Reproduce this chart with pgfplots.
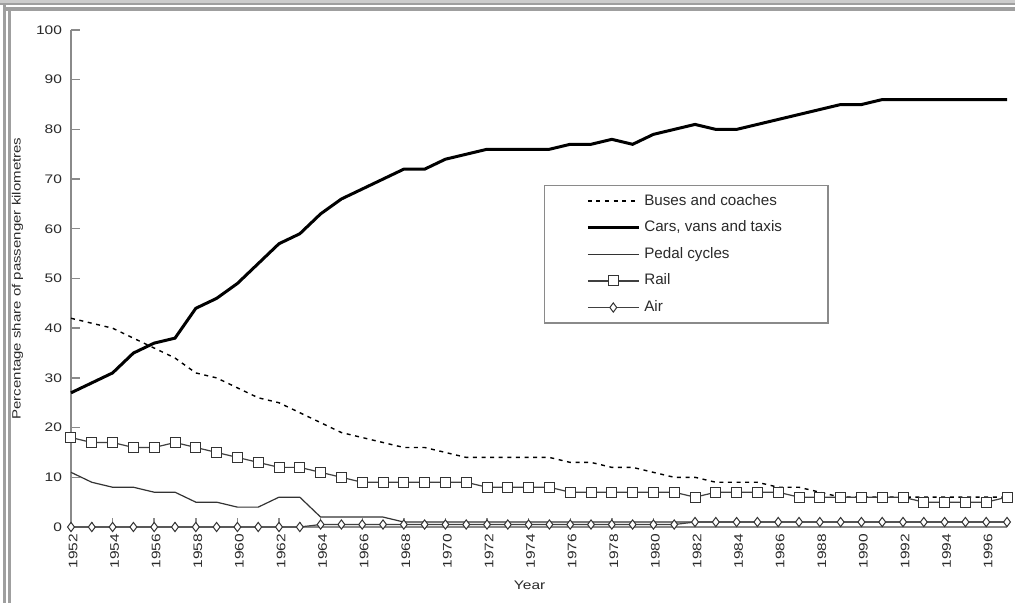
\documentclass[border=0pt]{standalone}
\usepackage{fontspec}
\setmainfont{Liberation Sans}
\newfontfamily\tickfont[FakeStretch=1.25]{Liberation Sans}
\usepackage{pgfplots}
\pgfplotsset{compat=1.18}
\definecolor{txt}{HTML}{2A2A2A}
\definecolor{axgray}{HTML}{8A8A8A}
\pgfplotstableread{
year bus car cyc rail air
1952 42 27 11 18 0
1953 41 29 9 17 0
1954 40 31 8 17 0
1955 38 35 8 16 0
1956 36 37 7 16 0
1957 34 38 7 17 0
1958 31 44 5 16 0
1959 30 46 5 15 0
1960 28 49 4 14 0
1961 26 53 4 13 0
1962 25 57 6 12 0
1963 23 59 6 12 0
1964 21 63 2 11 0.5
1965 19 66 2 10 0.5
1966 18 68 2 9 0.5
1967 17 70 2 9 0.5
1968 16 72 1 9 0.5
1969 16 72 1 9 0.5
1970 15 74 1 9 0.5
1971 14 75 1 9 0.5
1972 14 76 1 8 0.5
1973 14 76 1 8 0.5
1974 14 76 1 8 0.5
1975 14 76 1 8 0.5
1976 13 77 1 7 0.5
1977 13 77 1 7 0.5
1978 12 78 1 7 0.5
1979 12 77 1 7 0.5
1980 11 79 1 7 0.5
1981 10 80 1 7 0.5
1982 10 81 1 6 1
1983 9 80 1 7 1
1984 9 80 1 7 1
1985 9 81 1 7 1
1986 8 82 1 7 1
1987 8 83 1 6 1
1988 7 84 1 6 1
1989 6 85 1 6 1
1990 6 85 1 6 1
1991 6 86 1 6 1
1992 6 86 1 6 1
1993 6 86 1 5 1
1994 6 86 1 5 1
1995 6 86 1 5 1
1996 6 86 1 5 1
1997 6 86 1 6 1
}\datatable
\begin{document}
\begin{tikzpicture}
\useasboundingbox (0,0) rectangle (507.5pt,-301.5pt);
\fill[white] (0,0) rectangle (507.5pt,-301.5pt);
% frame
\fill[gray!40] (0,0) rectangle (507.5pt,-1.5pt);
\fill[gray!75] (0,-1.5pt) rectangle (507.5pt,-2.5pt);
\fill[gray!75] (1.5pt,-3.5pt) rectangle (507.5pt,-5.4pt);
\fill[gray!75] (1.5pt,-1.5pt) rectangle (2.8pt,-301.5pt);
\fill[gray!75] (4.2pt,-3.5pt) rectangle (5.4pt,-301.5pt);
\begin{axis}[
  at={(35.5pt,-263.5pt)}, anchor=south west,
  scale only axis, width=468pt, height=248.5pt,
  xmin=1952, xmax=1997, ymin=0, ymax=100,
  clip=false,
  axis x line*=bottom, axis y line*=left,
  axis line style={axgray, line width=0.7pt},
  every tick/.style={axgray, line width=0.7pt},
  xtick={1952,1954,...,1996}, minor xtick={1953,1955,...,1997},
  ytick={0,10,...,100},
  tick align=inside,
  major tick length=4.5pt, minor tick length=2.5pt,
  /pgf/number format/1000 sep={},
  /pgf/number format/assume math mode=true,
  tick label style={font=\tickfont\fontsize{6.2}{7}\selectfont, text=txt},
  xticklabel style={rotate=90, anchor=east, xshift=0pt, yshift=-1pt},
  yticklabel style={xshift=-1pt},
  ylabel={Percentage share of passenger kilometres},
  ylabel style={at={(axis description cs:-0.057,0.5)}, anchor=center, font=\tickfont\fontsize{6}{7}\selectfont, text=txt},
  xlabel={Year},
  xlabel style={at={(axis description cs:0.49,-0.118)}, anchor=center, font=\tickfont\fontsize{6.2}{7}\selectfont, text=txt},
  legend style={at={(0.505,0.688)}, anchor=north west, draw=axgray, line width=0.6pt,
     font=\fontsize{7.6}{9}\selectfont, text=txt, inner xsep=21pt, inner ysep=2.2pt, row sep=2.3pt},
  legend cell align=left,
  legend image code/.code={\draw[mark repeat=2,mark phase=2,#1] plot coordinates {(0pt,0pt) (12.75pt,0pt) (25.5pt,0pt)};},
]
\addplot[black, line width=0.7pt, dash pattern=on 2pt off 2.3pt] table[x=year,y=bus] {\datatable};
\addlegendentry{Buses and coaches}
\addplot[black, line width=1.5pt] table[x=year,y=car] {\datatable};
\addlegendentry{Cars, vans and taxis}
\addplot[black!80, line width=0.6pt] table[x=year,y=cyc] {\datatable};
\addlegendentry{Pedal cycles}
\addplot[black!75, line width=0.6pt, mark=square*, mark size=2.5pt, mark options={solid, fill=white, draw=black!80, line width=0.5pt}] table[x=year,y=rail] {\datatable};
\addlegendentry{Rail}
\addplot[black!75, line width=0.6pt, mark=diamond*, mark size=2.3pt, mark options={solid, fill=white, draw=black!80, line width=0.5pt}] table[x=year,y=air] {\datatable};
\addlegendentry{Air}
\end{axis}
\end{tikzpicture}
\end{document}
